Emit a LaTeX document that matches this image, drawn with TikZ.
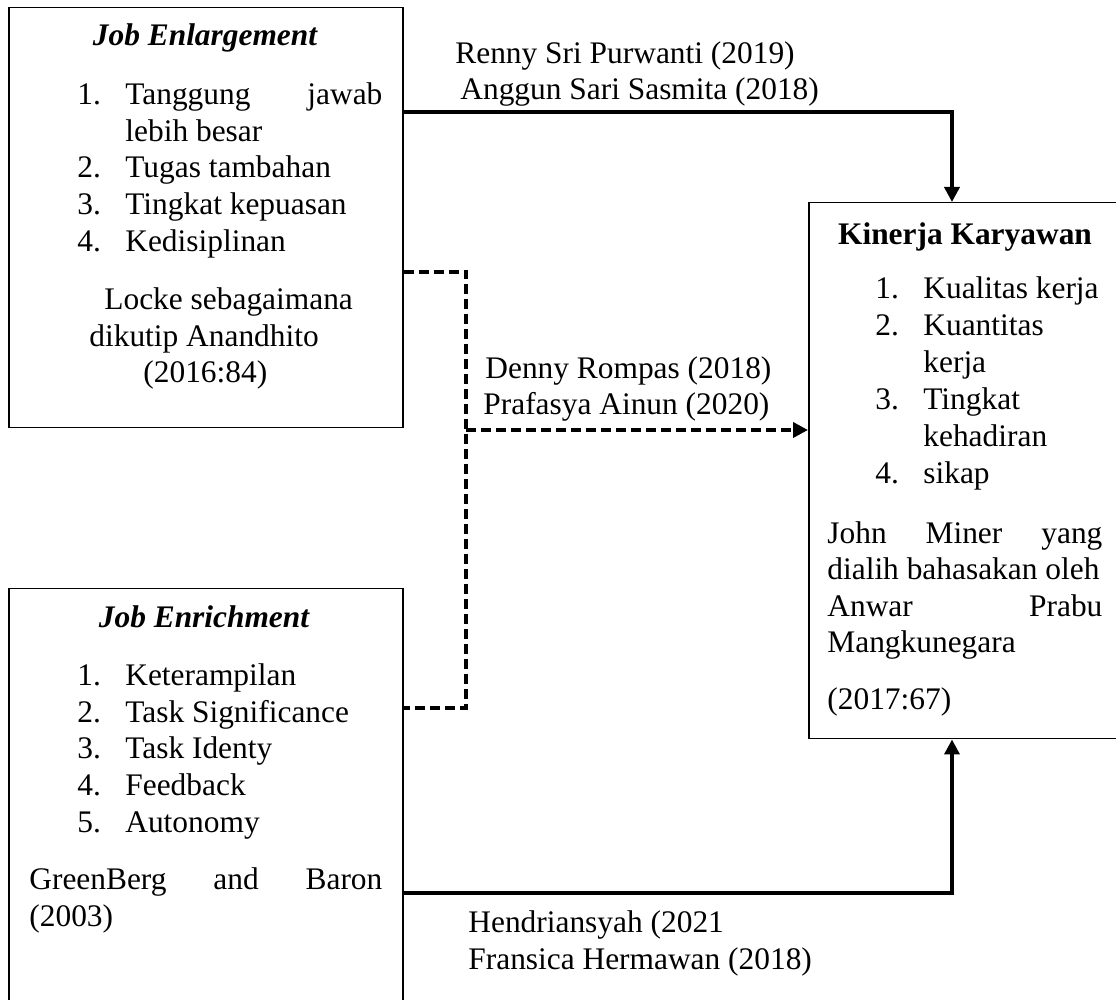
\documentclass[tikz,border=0pt]{standalone}
\usepackage{fontspec}
\setmainfont{Liberation Serif}
\usetikzlibrary{arrows.meta}

\begin{document}
\begin{tikzpicture}[x=0.5pt, y=-0.5pt,
    box/.style={draw, line width=0.75pt, inner sep=0pt, anchor=north west},
    txt/.style={inner sep=0pt, anchor=base west, font=\fontsize{15.7pt}{18.5pt}\selectfont},
    link/.style={line width=1.8pt, -{Triangle[length=7.5pt,width=7.5pt]}},
    dlink/.style={line width=1.8pt, dash pattern=on 5pt off 2.5pt}]
    \useasboundingbox (0,0) rectangle (1116,1000);

    % Left top: job enlargement
    \node[box, minimum width=197pt, minimum height=210pt] (enl) at (8,7) {};
    \node[txt, anchor=base] (enlT) at (205,46) {\bfseries\itshape Job Enlargement};
    \node[txt] (enl1) at (77,105) {\makebox[24pt][l]{1.}\makebox[128.5pt][s]{Tanggung jawab}};
    \node[txt] (enl1b) at (125,142) {lebih besar};
    \node[txt] (enl2) at (77,178) {\makebox[24pt][l]{2.}Tugas tambahan};
    \node[txt] (enl3) at (77,215) {\makebox[24pt][l]{3.}Tingkat kepuasan};
    \node[txt] (enl4) at (77,252) {\makebox[24pt][l]{4.}Kedisiplinan};
    \node[txt] (enlS1) at (104,310) {Locke sebagaimana};
    \node[txt] (enlS2) at (89,347) {dikutip Anandhito};
    \node[txt] (enlS3) at (143,383) {(2016:84)};

    % Left bottom: job enrichment
    \node[box, minimum width=197pt, minimum height=208pt] (enr) at (8,588) {};
    \node[txt, anchor=base] (enrT) at (204,628) {\bfseries\itshape Job Enrichment};
    \node[txt] (enr1) at (77,686) {\makebox[24pt][l]{1.}Keterampilan};
    \node[txt] (enr2) at (77,723) {\makebox[24pt][l]{2.}Task Significance};
    \node[txt] (enr3) at (77,759) {\makebox[24pt][l]{3.}Task Identy};
    \node[txt] (enr4) at (77,796) {\makebox[24pt][l]{4.}Feedback};
    \node[txt] (enr5) at (77,833) {\makebox[24pt][l]{5.}Autonomy};
    \node[txt] (enrS1) at (29,890) {\makebox[176.5pt][s]{GreenBerg and Baron}};
    \node[txt] (enrS2) at (29,927) {(2003)};

    % Right: kinerja karyawan
    \node[box, minimum width=155pt, minimum height=268pt] (kin) at (808,202) {};
    \node[txt, anchor=base] (kinT) at (965,245) {\bfseries Kinerja Karyawan};
    \node[txt] (kin1) at (875,299) {\makebox[24pt][l]{1.}Kualitas kerja};
    \node[txt] (kin2) at (875,336) {\makebox[24pt][l]{2.}Kuantitas};
    \node[txt] (kin2b) at (923,373) {kerja};
    \node[txt] (kin3) at (875,410) {\makebox[24pt][l]{3.}Tingkat};
    \node[txt] (kin3b) at (923,447) {kehadiran};
    \node[txt] (kin4) at (875,484) {\makebox[24pt][l]{4.}sikap};
    \node[txt] (kinS1) at (827,544) {\makebox[137.5pt][s]{John Miner yang}};
    \node[txt] (kinS2) at (827,580) {dialih bahasakan oleh};
    \node[txt] (kinS3) at (827,617) {\makebox[137.5pt][s]{Anwar Prabu}};
    \node[txt] (kinS4) at (827,653) {Mangkunegara};
    \node[txt] (kinS5) at (827,710) {(2017:67)};

    % Connectors
    \coordinate (topbend) at (952,112);
    \coordinate (jt) at (466,272);
    \coordinate (jm) at (466,430);
    \coordinate (jb) at (466,708);
    \coordinate (botbend) at (952,893);
    \draw[link] (enl.east |- topbend) -- (topbend) -- (topbend |- kin.north);
    \draw[dlink] (enl.east |- jt) -- (jt) -- (jb) -- (enr.east |- jb);
    \draw[dlink, -{Triangle[length=7.5pt,width=7.5pt]}] (jm) -- (kin.west |- jm);
    \draw[link] (enr.east |- botbend) -- (botbend) -- (botbend |- kin.south);

    % Sources on the connectors
    \node[txt] (refA1) at (455,64) {Renny Sri Purwanti (2019)};
    \node[txt] (refA2) at (460,100) {Anggun Sari Sasmita (2018)};
    \node[txt] (refB1) at (485,379) {Denny Rompas (2018)};
    \node[txt] (refB2) at (483,415) {Prafasya Ainun (2020)};
    \node[txt] (refC1) at (468,933) {Hendriansyah (2021};
    \node[txt] (refC2) at (468,970) {Fransica Hermawan (2018)};
\end{tikzpicture}
\end{document}
